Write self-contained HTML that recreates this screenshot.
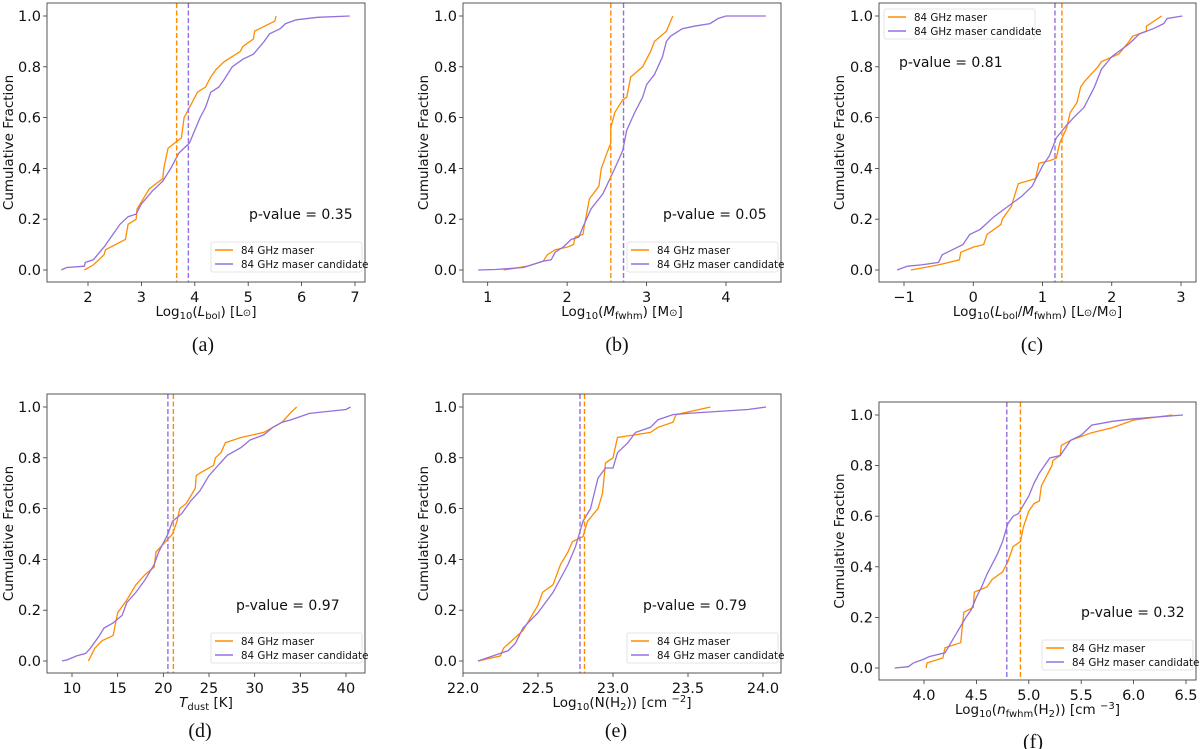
<!DOCTYPE html>
<html><head><meta charset="utf-8"><style>
body{margin:0;background:#fff;}
svg{display:block;font-family:"DejaVu Sans","Liberation Sans",sans-serif;}
</style></head><body>
<svg id="fig" width="1200" height="749" viewBox="0 0 1200 749" xmlns="http://www.w3.org/2000/svg"></svg>
<script>
// ---- data (x, cumulative fraction) ----
const aMaserX=[1.93,2.1,2.3,2.33,2.7,2.75,2.9,2.92,3.15,3.4,3.42,3.5,3.75,3.8,3.9,4.05,4.2,4.3,4.4,4.55,4.85,4.9,5.1,5.12,5.5,5.52];
const aMaserY=[0,0.02,0.06,0.08,0.12,0.18,0.2,0.24,0.32,0.36,0.4,0.48,0.52,0.6,0.64,0.7,0.72,0.76,0.79,0.82,0.86,0.88,0.91,0.94,0.98,1.0];
const aCandX=[1.5,1.6,1.93,1.95,2.1,2.3,2.5,2.6,2.75,2.9,3.0,3.2,3.4,3.55,3.7,3.9,4.0,4.1,4.2,4.3,4.45,4.55,4.7,4.9,5.1,5.3,5.4,5.6,5.7,5.9,6.3,6.9];
const aCandY=[0,0.01,0.015,0.03,0.04,0.09,0.15,0.18,0.21,0.22,0.26,0.31,0.35,0.4,0.46,0.5,0.55,0.6,0.64,0.7,0.72,0.75,0.8,0.83,0.85,0.9,0.93,0.95,0.97,0.985,0.995,1.0];
const aMedians=[3.66,3.88];

const bMaserX=[1.2,1.5,1.7,1.75,1.85,2.0,2.08,2.1,2.2,2.22,2.28,2.4,2.43,2.5,2.55,2.55,2.6,2.7,2.75,2.8,2.95,3.05,3.1,3.25,3.33];
const bMaserY=[0,0.015,0.035,0.06,0.08,0.09,0.1,0.13,0.14,0.18,0.28,0.33,0.4,0.46,0.5,0.56,0.62,0.67,0.68,0.76,0.8,0.86,0.9,0.94,1.0];
const bCandX=[0.88,1.1,1.45,1.7,1.8,1.85,1.95,2.05,2.15,2.2,2.3,2.45,2.6,2.7,2.75,2.85,2.95,3.0,3.1,3.2,3.25,3.3,3.45,3.6,3.8,3.9,4.0,4.5];
const bCandY=[0,0.002,0.01,0.035,0.04,0.07,0.09,0.12,0.13,0.17,0.24,0.3,0.4,0.47,0.55,0.62,0.68,0.73,0.77,0.84,0.9,0.92,0.95,0.96,0.97,0.99,1.0,1.0];
const bMedians=[2.55,2.71];

const cMaserX=[-0.9,-0.5,-0.2,-0.18,0,0.15,0.2,0.4,0.42,0.55,0.65,0.9,0.95,1.1,1.2,1.25,1.35,1.4,1.5,1.55,1.6,1.8,1.85,2.1,2.25,2.3,2.5,2.5,2.72];
const cMaserY=[0,0.02,0.04,0.07,0.09,0.1,0.14,0.18,0.2,0.25,0.34,0.36,0.42,0.43,0.44,0.5,0.56,0.62,0.66,0.72,0.74,0.8,0.82,0.85,0.9,0.92,0.94,0.96,1.0];
const cCandX=[-1.1,-0.95,-0.75,-0.5,-0.45,-0.3,-0.15,-0.05,0.1,0.3,0.45,0.7,0.85,1.0,1.1,1.2,1.35,1.45,1.6,1.75,1.85,2.0,2.25,2.4,2.6,2.75,2.8,3.02];
const cCandY=[0,0.015,0.02,0.03,0.06,0.08,0.1,0.14,0.16,0.21,0.24,0.29,0.33,0.41,0.45,0.52,0.57,0.6,0.64,0.72,0.79,0.84,0.89,0.93,0.95,0.97,0.99,1.0];
const cMedians=[1.28,1.18];

const dMaserX=[11.8,12.5,13.3,14.5,15.0,16,17,18,19,19.2,20,21,21.5,21.8,22.5,23.5,23.6,24,25.5,25.7,26.3,26.8,28.5,31,32,33,34,34.6];
const dMaserY=[0,0.05,0.08,0.1,0.19,0.24,0.3,0.34,0.37,0.43,0.46,0.5,0.55,0.6,0.62,0.68,0.73,0.74,0.77,0.8,0.82,0.86,0.88,0.9,0.92,0.94,0.98,1.0];
const dCandX=[8.9,9.5,10.5,11.5,12,13,13.5,14.5,15.5,16,17,18,19,19.5,20.5,21,22,23,24,25,26,27,28.5,29.5,31,32,33,34,36,40,40.5];
const dCandY=[0,0.005,0.02,0.03,0.05,0.1,0.13,0.15,0.18,0.23,0.27,0.32,0.38,0.43,0.5,0.55,0.58,0.63,0.67,0.73,0.77,0.81,0.84,0.87,0.89,0.92,0.94,0.95,0.975,0.99,1.0];
const dMedians=[21.1,20.5];

const eMaserX=[22.1,22.25,22.27,22.4,22.5,22.53,22.6,22.65,22.7,22.73,22.8,22.83,22.9,22.93,22.95,23.0,23.03,23.25,23.3,23.4,23.42,23.65];
const eMaserY=[0,0.02,0.05,0.12,0.22,0.27,0.3,0.38,0.43,0.47,0.49,0.55,0.6,0.66,0.78,0.8,0.88,0.9,0.92,0.94,0.97,1.0];
const eCandX=[22.1,22.2,22.3,22.35,22.4,22.5,22.6,22.7,22.75,22.8,22.85,22.9,22.95,23.0,23.03,23.1,23.15,23.25,23.3,23.4,23.5,23.9,24.02];
const eCandY=[0,0.02,0.04,0.07,0.13,0.19,0.27,0.38,0.45,0.55,0.6,0.72,0.76,0.76,0.82,0.86,0.9,0.92,0.95,0.97,0.975,0.99,1.0];
const eMedians=[22.81,22.78];

const fMaserX=[4.02,4.03,4.18,4.2,4.35,4.38,4.47,4.48,4.6,4.65,4.75,4.8,4.85,4.92,4.95,5.0,5.05,5.1,5.12,5.22,5.23,5.3,5.31,5.4,5.6,5.8,6.0,6.37];
const fMaserY=[0,0.02,0.04,0.08,0.1,0.22,0.24,0.3,0.32,0.35,0.38,0.42,0.48,0.5,0.56,0.62,0.65,0.66,0.72,0.8,0.82,0.84,0.88,0.9,0.93,0.95,0.98,1.0];
const fCandX=[3.72,3.85,3.9,4.0,4.05,4.2,4.3,4.4,4.45,4.5,4.55,4.6,4.7,4.75,4.8,4.85,4.9,5.0,5.05,5.1,5.15,5.2,5.3,5.4,5.5,5.6,5.8,6.0,6.47];
const fCandY=[0,0.005,0.02,0.035,0.045,0.06,0.13,0.2,0.23,0.28,0.32,0.37,0.45,0.5,0.57,0.6,0.61,0.68,0.73,0.77,0.8,0.83,0.84,0.9,0.92,0.96,0.975,0.985,1.0];
const fMedians=[4.92,4.79];

const yTicks=[0,0.2,0.4,0.6,0.8,1.0];
const aXTicks=[2,3,4,5,6,7];
const bXTicks=[1,2,3,4];
const cXTicks=[-1,0,1,2,3];
const dXTicks=[10,15,20,25,30,35,40];
const eXTicks=[22.0,22.5,23.0,23.5,24.0];
const fXTicks=[4.0,4.5,5.0,5.5,6.0,6.5];
const pValues=["0.35","0.05","0.81","0.97","0.79","0.32"];

const ORANGE="#ff8c00", PURPLE="#9370db";
const svg=document.getElementById('fig');
const NS="http://www.w3.org/2000/svg";
function mk(tag,attrs,parent,text){const e=document.createElementNS(NS,tag);for(const k in attrs)e.setAttribute(k,attrs[k]);if(text!==undefined)e.textContent=text;(parent||svg).appendChild(e);return e;}

const panels=[
 {id:'a',box:[47,3,365,282],xm:[2,88,7,355],ym:[16,270],mx:aMaserX,my:aMaserY,cx:aCandX,cy:aCandY,med:aMedians,ticks:aXTicks,dec:0,
  xlabel:'Log<tspan font-size="10" dy="3">10</tspan><tspan dy="-3">(</tspan><tspan font-style="italic">L</tspan><tspan font-size="10" dy="3">bol</tspan><tspan dy="-3">) [L</tspan><tspan font-size="10">⊙</tspan>]',xly:316,cap:[203,344],leg:[211,242],pv:[249,219],yl:9},
 {id:'b',box:[463,3,781,282],xm:[1,487.7,4,726],ym:[16,270],mx:bMaserX,my:bMaserY,cx:bCandX,cy:bCandY,med:bMedians,ticks:bXTicks,dec:0,
  xlabel:'Log<tspan font-size="10" dy="3">10</tspan><tspan dy="-3">(</tspan><tspan font-style="italic">M</tspan><tspan font-size="10" dy="3">fwhm</tspan><tspan dy="-3">) [M</tspan><tspan font-size="10">⊙</tspan>]',xly:316,cap:[617,344],leg:[627,242],pv:[663,219],yl:424},
 {id:'c',box:[879,3,1196,282],xm:[-1,904,3,1181],ym:[16,270],mx:cMaserX,my:cMaserY,cx:cCandX,cy:cCandY,med:cMedians,ticks:cXTicks,dec:0,
  xlabel:'Log<tspan font-size="10" dy="3">10</tspan><tspan dy="-3">(</tspan><tspan font-style="italic">L</tspan><tspan font-size="10" dy="3">bol</tspan><tspan dy="-3">/</tspan><tspan font-style="italic">M</tspan><tspan font-size="10" dy="3">fwhm</tspan><tspan dy="-3">) [L</tspan><tspan font-size="10">⊙</tspan>/M<tspan font-size="10">⊙</tspan>]',xly:316,cap:[1032,344],leg:[884,9],pv:[899,67],yl:840},
 {id:'d',box:[47,394,365,673],xm:[10,72,40,346],ym:[407,661],mx:dMaserX,my:dMaserY,cx:dCandX,cy:dCandY,med:dMedians,ticks:dXTicks,dec:0,
  xlabel:'<tspan font-style="italic">T</tspan><tspan font-size="10" dy="3">dust</tspan><tspan dy="-3"> [K]</tspan>',xly:707,cap:[200,730],leg:[211,633],pv:[236,610],yl:9},
 {id:'e',box:[463,394,781,673],xm:[22,463,24,763],ym:[407,661],mx:eMaserX,my:eMaserY,cx:eCandX,cy:eCandY,med:eMedians,ticks:eXTicks,dec:1,
  xlabel:'Log<tspan font-size="10" dy="3">10</tspan><tspan dy="-3">(N(H</tspan><tspan font-size="10" dy="3">2</tspan><tspan dy="-3">)) [cm </tspan><tspan font-size="10" dy="-5">−2</tspan><tspan dy="5">]</tspan>',xly:707,cap:[616,730],leg:[627,633],pv:[643,610],yl:424},
 {id:'f',box:[879,402,1196,680],xm:[4,924,6.5,1186],ym:[415,668],mx:fMaserX,my:fMaserY,cx:fCandX,cy:fCandY,med:fMedians,ticks:fXTicks,dec:1,
  xlabel:'Log<tspan font-size="10" dy="3">10</tspan><tspan dy="-3">(</tspan><tspan font-style="italic">n</tspan><tspan font-size="10" dy="3">fwhm</tspan><tspan dy="-3">(H</tspan><tspan font-size="10" dy="3">2</tspan><tspan dy="-3">)) [cm </tspan><tspan font-size="10" dy="-5">−3</tspan><tspan dy="5">]</tspan>',xly:714,cap:[1033,741],leg:[1042,640],pv:[1081,617],yl:840}
];

panels.forEach((p,i)=>{
  const g=mk('g',{});
  
  
  const [bx0,by0,bx1,by1]=p.box;
  const xs=v=>p.xm[1]+(v-p.xm[0])*(p.xm[3]-p.xm[1])/(p.xm[2]-p.xm[0]);
  const ys=v=>p.ym[1]+(p.ym[0]-p.ym[1])*v;
  yTicks.forEach(t=>{
    const y=ys(t);
    const tl=mk('line',{x1:bx0-4,x2:bx0,y1:y,y2:y,stroke:'#333','stroke-width':0.8},g);
    
    
    const tx=mk('text',{x:bx0-6,y:y+5,'text-anchor':'end','font-size':14.5,fill:'#111'},g,t.toFixed(1));
    
    
  });
  p.ticks.forEach(t=>{
    const x=xs(t);
    const tl=mk('line',{x1:x,x2:x,y1:by1,y2:by1+4,stroke:'#333','stroke-width':0.8},g);
    
    
    const tx=mk('text',{x:x,y:by1+20,'text-anchor':'middle','font-size':14.5,fill:'#111'},g,(t<0?'−':'')+Math.abs(t).toFixed(p.dec));
    
    
  });
  function curve(X,Y,col,name){
    const pts=X.map((x,k)=>xs(x).toFixed(1)+','+ys(Y[k]).toFixed(1)).join(' ');
    const pl=mk('polyline',{points:pts,fill:'none',stroke:col,'stroke-width':1.3},g);
    
    
  }
  curve(p.mx,p.my,ORANGE,'maser-curve');
  curve(p.cx,p.cy,PURPLE,'candidate-curve');
  [[p.med[0],ORANGE],[p.med[1],PURPLE]].forEach((m,k)=>{
    const x=xs(m[0]);
    const ln=mk('line',{x1:x,x2:x,y1:by0,y2:by1,stroke:m[1],'stroke-width':1.4,'stroke-dasharray':'5,2.5'},g);
    
    
  });
  const fr=mk('rect',{x:bx0,y:by0,width:bx1-bx0,height:by1-by0,fill:'none',stroke:'#444','stroke-width':0.9},g);
  
  
  const [lx,ly]=p.leg;
  const lg=mk('g',{},g);
  
  
  mk('rect',{x:lx,y:ly,width:151,height:30,rx:2,fill:'#fff',stroke:'#ddd','stroke-width':0.8},lg);
  [[ORANGE,'84 GHz maser'],[PURPLE,'84 GHz maser candidate']].forEach((e,k)=>{
    const le=mk('g',{},lg);
    
    
    mk('line',{x1:lx+4,x2:lx+22,y1:ly+8+k*14,y2:ly+8+k*14,stroke:e[0],'stroke-width':1.4},le);
    mk('text',{x:lx+30,y:ly+12+k*14,'font-size':10.3,fill:'#111'},le,e[1]);
  });
  const pv=mk('text',{x:p.pv[0],y:p.pv[1],'font-size':14,fill:'#111'},g,'p-value = '+pValues[i]);
  
  
  const yl=mk('text',{x:p.yl,y:(by0+by1)/2,'font-size':13.5,'text-anchor':'middle',fill:'#111','dominant-baseline':'central',transform:'rotate(-90 '+p.yl+' '+(by0+by1)/2+')'},g,'Cumulative Fraction');
  
  
  const xl=mk('text',{x:(bx0+bx1)/2,y:p.xly,'font-size':13.5,'text-anchor':'middle',fill:'#111'},g);
  xl.innerHTML=p.xlabel;
  
  
  const cp=mk('text',{x:p.cap[0],y:p.cap[1]+7,'font-size':20,'text-anchor':'middle','font-family':'Liberation Serif, serif',fill:'#111'},g,'('+p.id+')');
  
  
});
</script>
</body></html>
